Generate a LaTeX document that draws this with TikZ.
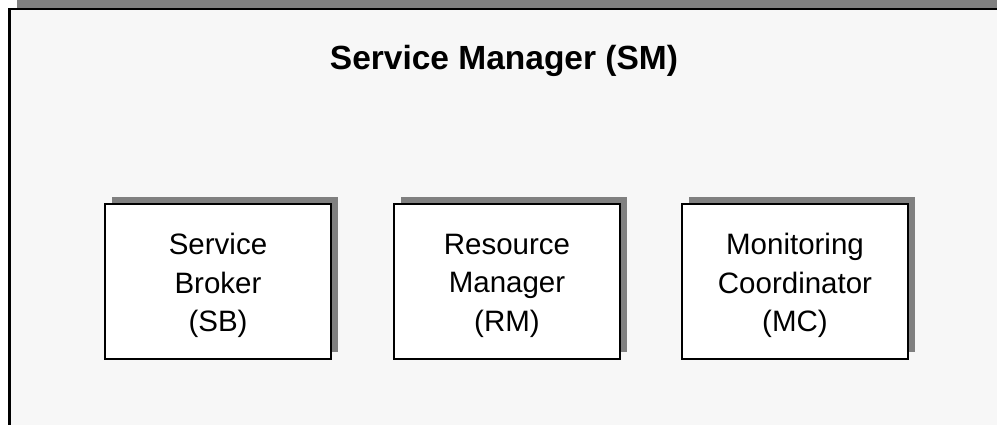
\documentclass[tikz,border=0pt]{standalone}
\usepackage{fontspec}
\setmainfont{Liberation Sans}
\definecolor{shadowgray}{HTML}{808080}
\definecolor{panelbg}{HTML}{F7F7F7}
\begin{document}
\begin{tikzpicture}[x=1pt,y=-1pt,
  comp/.style={draw=black, line width=2.2pt, fill=white, minimum width=226pt, minimum height=155pt,
    inner sep=0pt, align=center},
  comptext/.style={align=center, inner sep=0pt, font=\fontsize{29.5}{38.5}\selectfont},
  compshadow/.style={fill=shadowgray, draw=none, minimum width=226pt, minimum height=155pt, inner sep=0pt},
  titlestyle/.style={font=\fontsize{33.5}{40}\selectfont\bfseries, inner sep=0pt}
]
\useasboundingbox (0,0) rectangle (997,425);
% outer panel with shadow
\fill[shadowgray] (17,0.5) rectangle (1010,10);
\filldraw[fill=panelbg, draw=black, line width=2.5pt] (9.25,9.25) rectangle (1020,440);
% title
\node[titlestyle, anchor=base] (title) at (504,70) {Service Manager (SM)};
% component shadows
\node[compshadow] (sbs) at (225,274.5) {};
\node[compshadow] (rms) at (514,274.5) {};
\node[compshadow] (mcs) at (802,274.5) {};
% components
\node[comp] (sb) at (218,281.5) {};
\node[comp] (rm) at (507,281.5) {};
\node[comp] (mc) at (795,281.5) {};
\node[comptext] (sbt) at ([yshift=-4pt]sb.center) {Service\\Broker\\(SB)};
\node[comptext] (rmt) at ([yshift=-4pt]rm.center) {Resource\\Manager\\(RM)};
\node[comptext] (mct) at ([yshift=-4pt]mc.center) {Monitoring\\Coordinator\\(MC)};
\end{tikzpicture}
\end{document}
